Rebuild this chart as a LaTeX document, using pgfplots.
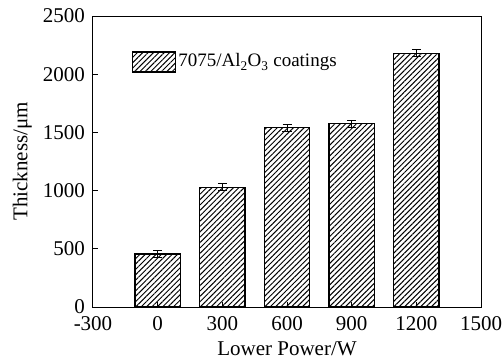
\documentclass[border=0pt]{standalone}
\usepackage{pgfplots}
\pgfplotsset{compat=1.18}
\usepackage{fontspec}
\setmainfont{Liberation Serif}
\usetikzlibrary{patterns.meta}
\begin{document}
\fontsize{21bp}{24bp}\selectfont
\begin{tikzpicture}
\useasboundingbox (-93bp,-55bp) rectangle (411bp,307bp);
\begin{axis}[
  at={(0,0)}, anchor=south west,
  scale only axis, width=388bp, height=291bp,
  xmin=-300, xmax=1500, ymin=0, ymax=2500,
  xtick={-300,0,300,600,900,1200,1500},
  ytick={0,500,1000,1500,2000,2500},
  xticklabels={-300,0,300,600,900,1200,1500},
  yticklabels={0,500,1000,1500,2000,2500},
  tick align=inside, tick pos=left,
  major tick length=5bp,
  tick style={line width=1bp, black},
  axis line style={line width=1bp},
  xlabel={Lower Power/W}, ylabel={Thickness/μm},
  ticklabel style={font=\fontsize{21bp}{24bp}\selectfont},
  label style={font=\fontsize{21bp}{24bp}\selectfont},
  xlabel style={at={(axis description cs:0.5,0)}, anchor=north, yshift=-27bp},
  ylabel style={at={(axis description cs:0,0.5)}, anchor=south, yshift=54bp},
  x tick label style={yshift=-2bp},
  y tick label style={xshift=-1bp},
  legend style={draw=none, fill=none, at={(axis cs:-120,2105)}, anchor=west,
    font=\fontsize{19bp}{22bp}\selectfont, inner sep=0pt},
  legend cell align=left,
]
\addplot[ybar, bar width=210, line width=1.3bp, draw=black,
  pattern={Lines[angle=45, distance=3.8bp, line width=1bp]},
  legend image code/.code={\draw[line width=1.3bp, draw=black,
    pattern={Lines[angle=45, distance=3.8bp, line width=1bp]}]
    (0bp,-10bp) rectangle (43bp,10bp);},
  error bars/.cd, y dir=both, y explicit,
  error bar style={line width=0.9bp, black},
  error mark options={rotate=90, mark size=4.5bp, line width=0.9bp, black},
  ]
  coordinates {
    (0,455) +- (0,30)
    (300,1028) +- (0,30)
    (600,1542) +- (0,30)
    (900,1575) +- (0,30)
    (1200,2180) +- (0,30)
  };
\addlegendentry{7075/Al\textsubscript{2}O\textsubscript{3} coatings}
\end{axis}
\end{tikzpicture}
\end{document}
